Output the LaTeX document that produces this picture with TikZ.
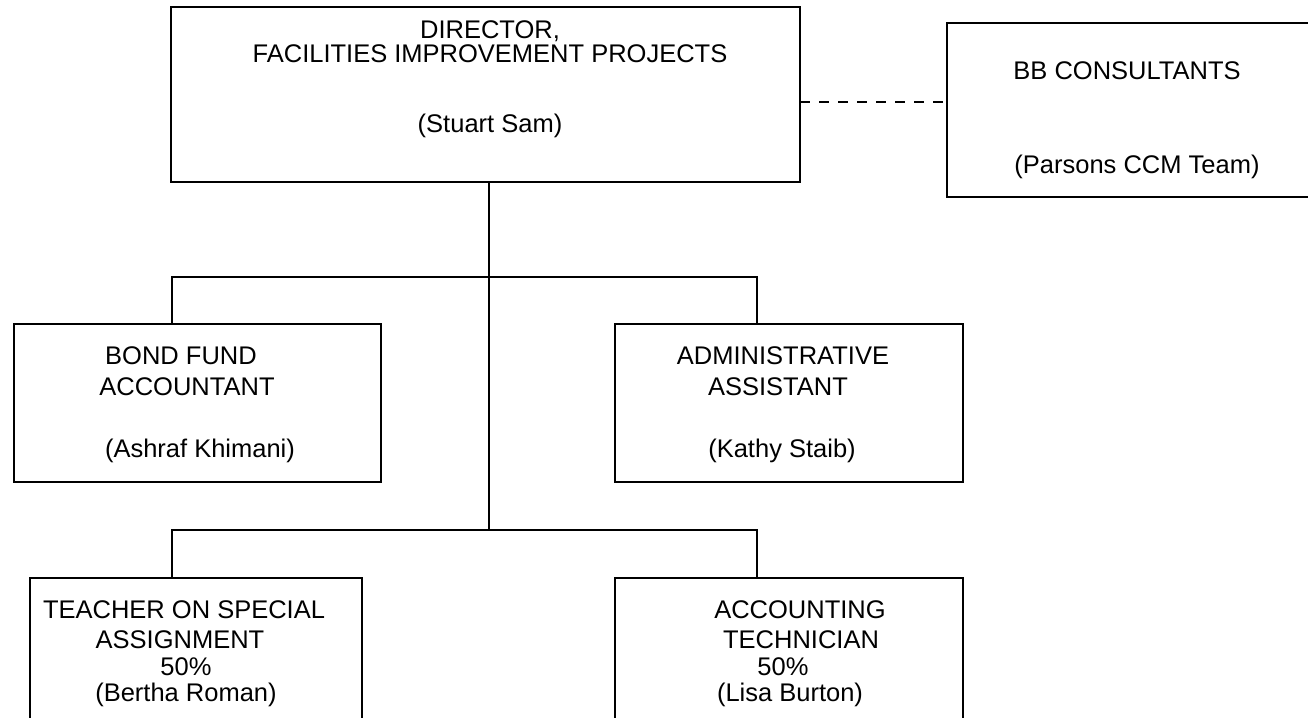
\documentclass[tikz,border=0pt]{standalone}
\usepackage{fontspec}
\setmainfont{Liberation Sans}
\begin{document}
\begin{tikzpicture}[x=1pt,y=-1pt,
  boxstyle/.style={draw=black,line width=2pt,inner sep=0pt,outer sep=0pt},
  conn/.style={draw=black,line width=2pt},
  lbl/.style={anchor=base,inner sep=0pt,font=\fontsize{25.5}{28}\selectfont}]
\useasboundingbox (0,0) rectangle (1308,717);
% boxes
\node[boxstyle,minimum width=629pt,minimum height=175pt] (dir) at (485.5,94.5) {};
\node[boxstyle,minimum width=365pt,minimum height=174pt] (bb) at (1129.5,110) {};
\node[boxstyle,minimum width=367pt,minimum height=158pt] (bond) at (197.5,403) {};
\node[boxstyle,minimum width=348pt,minimum height=158pt] (admin) at (789,403) {};
\node[boxstyle,minimum width=332pt,minimum height=160pt] (teach) at (196,658) {};
\node[boxstyle,minimum width=348pt,minimum height=160pt] (acct) at (789,658) {};
% texts
\node[lbl] (dirA) at (490,39) {DIRECTOR,};
\node[lbl] (dirB) at (490,63) {FACILITIES IMPROVEMENT PROJECTS};
\node[lbl] (dirC) at (490,132) {(Stuart Sam)};
\node[lbl] (bbA) at (1127,79) {BB CONSULTANTS};
\node[lbl] (bbB) at (1137,173) {(Parsons CCM Team)};
\node[lbl] (bondA) at (181,364) {BOND FUND};
\node[lbl] (bondB) at (187,395) {ACCOUNTANT};
\node[lbl] (bondC) at (200,457) {(Ashraf Khimani)};
\node[lbl] (admA) at (783,364) {ADMINISTRATIVE};
\node[lbl] (admB) at (778,395) {ASSISTANT};
\node[lbl] (admC) at (782,457) {(Kathy Staib)};
\node[lbl] (teaA) at (184,618) {TEACHER ON SPECIAL};
\node[lbl] (teaB) at (180,648) {ASSIGNMENT};
\node[lbl] (teaC) at (186,675) {50\%};
\node[lbl] (teaD) at (186,701) {(Bertha Roman)};
\node[lbl] (accA) at (800,618) {ACCOUNTING};
\node[lbl] (accB) at (801,648) {TECHNICIAN};
\node[lbl] (accC) at (783,675) {50\%};
\node[lbl] (accD) at (790,701) {(Lisa Burton)};
% connectors
\coordinate (j1) at (489,277);
\coordinate (j2) at (489,530);
\coordinate (dashy) at (0,102);
\draw[conn] (dir.south -| j1) -- (j2);
\draw[conn] ([xshift=158pt]bond.north west) |- (j1) -| ([xshift=142pt]admin.north west);
\draw[conn] ([xshift=142pt]teach.north west) |- (j2) -| ([xshift=142pt]acct.north west);
\draw[conn,dash pattern=on 10pt off 9pt] (dir.east |- dashy) -- (bb.west |- dashy);
\end{tikzpicture}
\end{document}
